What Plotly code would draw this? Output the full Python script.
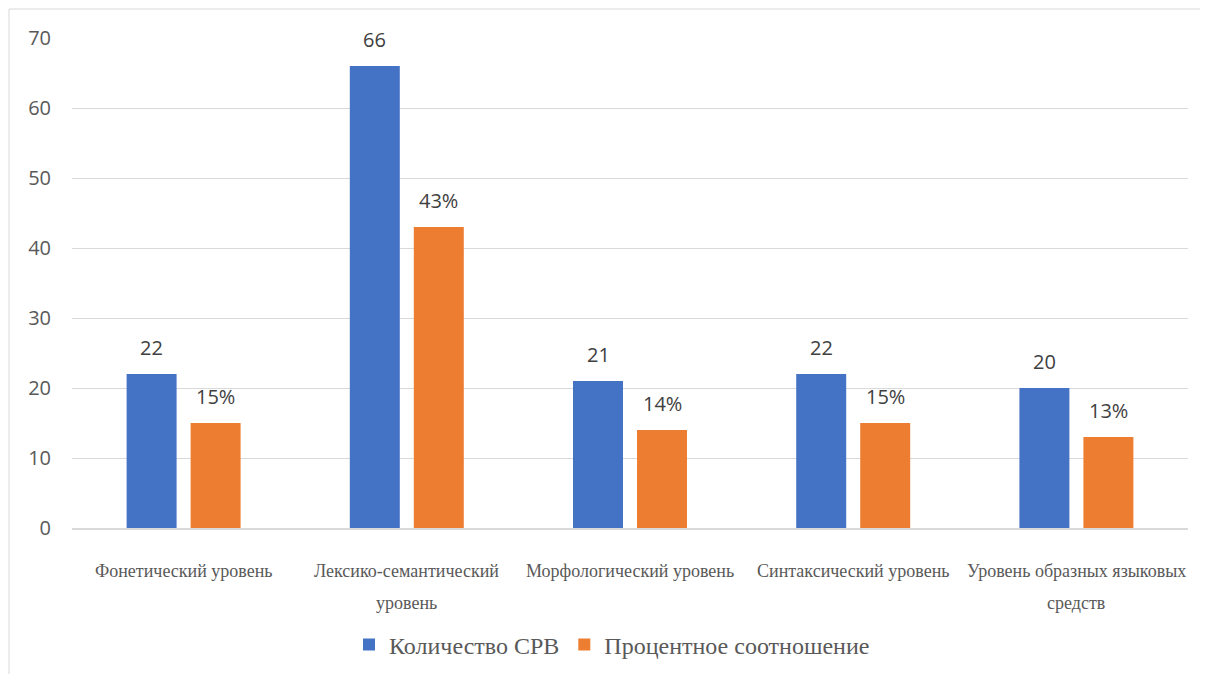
import plotly.graph_objects as go

categories = ["Фонетический уровень", "Лексико-семантический<br>уровень",
              "Морфологический уровень", "Синтаксический уровень",
              "Уровень образных языковых<br>средств"]
series_names = ["Количество СРВ", "Процентное соотношение"]
counts = [22, 66, 21, 22, 20]
percents = [15, 43, 14, 15, 13]
count_labels = ["22", "66", "21", "22", "20"]
percent_labels = ["15%", "43%", "14%", "15%", "13%"]
y_ticks = [0, 10, 20, 30, 40, 50, 60, 70]

# page body has an 8px margin; compensate so positions match the reference
OFF = 8
W, H = 1208, 674
ML, MT = 72 - OFF, 38 - OFF
PR, PB = 1188 - OFF, 528 - OFF   # plot right / bottom in figure px
MR, MB = W - PR, H - PB
PW, PH = PR - ML, PB - MT

def py(px):  # reference pixel y -> paper y
    return (PB - (px - OFF)) / PH

def pxx(px):  # reference pixel x -> paper x
    return ((px - OFF) - ML) / PW

BLUE = "#4472C4"
ORANGE = "#ED7D31"
GRID = "#D9D9D9"
TXT = "#595959"
SERIF = "Liberation Serif, Times New Roman, serif"

fig = go.Figure()
fig.add_trace(go.Bar(x=categories, y=counts, name=series_names[0],
                     marker=dict(color=BLUE, line=dict(width=0))))
fig.add_trace(go.Bar(x=categories, y=percents, name=series_names[1],
                     marker=dict(color=ORANGE, line=dict(width=0))))

annotations = []
for cat, v, t in zip(categories, counts, count_labels):
    annotations.append(dict(x=cat, y=v, xref="x", yref="y", text=t, showarrow=False,
                            xshift=-32, yshift=11, yanchor="bottom",
                            font=dict(family="Open Sans", size=20, color="#404040")))
for cat, v, t in zip(categories, percents, percent_labels):
    annotations.append(dict(x=cat, y=v, xref="x", yref="y", text=t, showarrow=False,
                            xshift=32, yshift=11, yanchor="bottom",
                            font=dict(family="Open Sans", size=20, color="#404040")))

# category labels (two-line labels with wide line spacing)
line_px = [571, 603]
for cat in categories:
    for i, part in enumerate(cat.split("<br>")):
        annotations.append(dict(x=cat, xref="x", yref="paper",
                                y=py(line_px[i]), yanchor="middle",
                                text=part, showarrow=False,
                                font=dict(family=SERIF, size=18, color=TXT)))

shapes = [dict(type="rect", xref="paper", yref="paper",
               x0=pxx(9), x1=pxx(W + 20),
               y0=py(H + 20), y1=py(9),
               line=dict(color=GRID, width=1), fillcolor="rgba(0,0,0,0)", layer="below")]

fig.update_layout(
    width=W, height=H,
    font=dict(family=SERIF, color=TXT),
    margin=dict(l=ML, r=MR, t=MT, b=MB, pad=0),
    paper_bgcolor="white", plot_bgcolor="white",
    barmode="group", bargap=0.4265, bargroupgap=0.219,
    showlegend=True,
    legend=dict(orientation="h", x=pxx(612), xanchor="center",
                y=py(645), yanchor="middle",
                font=dict(family=SERIF, size=24, color=TXT),
                itemwidth=30, traceorder="normal"),
    annotations=annotations,
    shapes=shapes,
    xaxis=dict(showticklabels=False, showline=True, linecolor=GRID, linewidth=1.5,
               showgrid=False, ticks=""),
    yaxis=dict(range=[0, 70], tickvals=y_ticks, showgrid=True, gridcolor=GRID, gridwidth=1,
               zeroline=False, showline=False, ticks="", ticklabelstandoff=20,
               tickfont=dict(family="Open Sans", size=20, color=TXT)),
)

fig.write_html("out.html")
